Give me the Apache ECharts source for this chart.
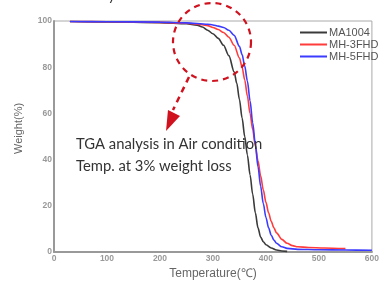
<!DOCTYPE html>
<html><head><meta charset="utf-8">
<script src="https://cdn.jsdelivr.net/npm/echarts@6/dist/echarts.min.js"></script>
<style>html,body{margin:0;padding:0;background:#fff;overflow:hidden}#c{width:100vw;height:100vh}</style>
</head><body><div id="c"></div>
<script>
const seriesNames = ['MA1004', 'MH-3FHD', 'MH-5FHD'];
const xTicks = [0, 100, 200, 300, 400, 500, 600];
const yTicks = [0, 20, 40, 60, 80, 100];

const tempMA1004 = [30,100,200,250,270,280,290,300,310,320,330,340,345,350,355,360,365,370,375,380,385,390,395,400,410,420,430,440];
const wtMA1004   = [99.8,99.6,99.3,98.8,98.2,97.4,96,94.5,92.5,89.5,85,78,73,66,58,50,42,33.5,25,17,10.5,6.5,4.5,3.2,1.8,0.9,0.5,0.3];

const tempMH3 = [30,100,200,250,280,290,300,310,320,330,340,350,355,360,365,370,375,380,385,390,395,400,405,410,415,420,430,440,450,460,480,510,550];
const wtMH3   = [99.8,99.7,99.4,99,98.4,98,97.2,96.3,95,93,89.5,84,80,74.5,67.5,60,53,46,39.5,33,27,21.5,17,13.3,10.5,8.3,5.5,3.8,2.8,2.3,2,1.8,1.5];

const tempMH5 = [30,100,200,250,290,300,310,320,330,340,350,355,360,365,370,375,380,385,390,395,400,405,410,415,420,430,440,460,500,550,600];
const wtMH5   = [99.8,99.7,99.5,99.2,98.6,98.3,97.8,97.2,96,93.8,89,85.5,80.5,74,65.5,56,46.5,37,28.5,21,15,10.5,7.3,5.2,3.8,2.3,1.6,1.2,1,0.9,0.8];

const pair = (t, w) => t.map((v, i) => [v, w[i]]);
const colors = ['#3a3a3a', '#ff3b3b', '#3b3bff'];
const mkSeries = (i, data) => ({
  name: seriesNames[i], type: 'line', data: data, smooth: 0.3, smoothMonotone: 'x', showSymbol: false,
  lineStyle: { width: 1.6, color: colors[i] }, itemStyle: { color: colors[i] }
});

const chart = echarts.init(document.getElementById('c'));
chart.setOption({
  animation: false,
  grid: { left: 54, right: 4, top: 21, bottom: 22, show: true, borderColor: '#aaa', borderWidth: 1 },
  legend: {
    orient: 'vertical', left: 295, top: 22, itemWidth: 27, itemHeight: 2, itemGap: 1,
    icon: 'rect',
    textStyle: { fontFamily: 'Liberation Sans', fontSize: 11, color: '#555', padding: [0,0,0,-3] },
    data: seriesNames
  },
  xAxis: {
    type: 'value', min: xTicks[0], max: xTicks[xTicks.length - 1], interval: 100,
    name: 'Temperature(\u2103)', nameLocation: 'middle', nameGap: 14,
    nameTextStyle: { fontFamily: 'Liberation Sans', fontSize: 12, color: '#666' },
    axisLine: { lineStyle: { color: '#999', width: 2 } },
    axisTick: { show: false }, splitLine: { show: false },
    axisLabel: { margin: 2, fontSize: 8.5, fontWeight: 'bold', color: '#999', fontFamily: 'Liberation Sans' }
  },
  yAxis: {
    type: 'value', min: yTicks[0], max: yTicks[yTicks.length - 1], interval: 20,
    axisLine: { show: true, lineStyle: { color: '#999', width: 2 } },
    axisTick: { show: false }, splitLine: { show: false },
    axisLabel: { margin: 2, fontSize: 8.5, fontWeight: 'bold', color: '#999', fontFamily: 'Liberation Sans' }
  },
  series: [
    mkSeries(0, pair(tempMA1004, wtMA1004)),
    mkSeries(1, pair(tempMH3, wtMH3)),
    mkSeries(2, pair(tempMH5, wtMH5))
  ],
  graphic: [
    { type: 'text', x: 13, y: 154, rotation: Math.PI / 2, style: { text: 'Weight(%)', fontFamily: 'Liberation Sans', fontSize: 11, fill: '#666' } },
    { type: 'circle', shape: { cx: 212, cy: 42, r: 39 }, style: { fill: 'none', stroke: '#d0121f', lineWidth: 2.2, lineDash: [6, 5] }, z: 10 },
    { type: 'line', shape: { x1: 189, y1: 77, x2: 173, y2: 110 }, style: { stroke: '#d0121f', lineWidth: 2.5, lineDash: [6, 5] }, z: 10 },
    { type: 'polygon', shape: { points: [[166, 131], [168, 110], [180, 116]] }, style: { fill: '#d0121f' }, z: 10 },
    { type: 'text', x: 76, y: 137, style: { text: 'TGA analysis in Air condition', fontFamily: 'Lato', fontSize: 14.8, fill: '#333' }, z: 11 },
    { type: 'text', x: 76, y: 159, style: { text: 'Temp. at 3% weight loss', fontFamily: 'Lato', fontSize: 14.8, fill: '#333' }, z: 11 },
    { type: 'text', x: 108, y: -11, style: { text: 'y', fontFamily: 'Lato', fontSize: 14, fill: '#333' } }
  ]
});
</script></body></html>
